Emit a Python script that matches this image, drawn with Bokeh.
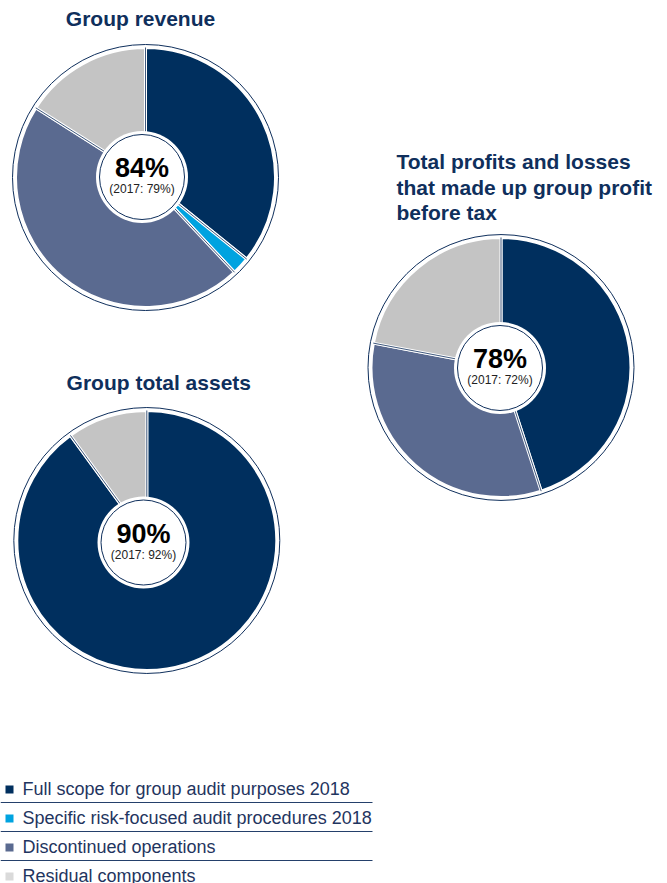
import numpy as np
from bokeh.plotting import figure
from bokeh.models import Range1d
from bokeh.core.properties import value
from bokeh.embed import file_html
from bokeh.resources import INLINE

# ---------------- data ----------------
categories = ["Full scope for group audit purposes 2018",
              "Specific risk-focused audit procedures 2018",
              "Discontinued operations",
              "Residual components"]
revenue_share = [35.8, 2.2, 46.0, 16.0]
profit_share = [45.0, 0.0, 33.0, 22.0]
assets_share = [90.0, 0.0, 0.0, 10.0]
chart_titles = [["Group revenue"],
                ["Total profits and losses", "that made up group profit", "before tax"],
                ["Group total assets"]]
headline = ["84%", "78%", "90%"]
prior_year = ["(2017: 79%)", "(2017: 72%)", "(2017: 92%)"]

# ---------------- style ----------------
slice_colors = ["#002f5e", "#00a3e0", "#5a6a90", "#c4c4c4"]
legend_colors = ["#002f5e", "#00a3e0", "#5a6a90", "#dadada"]
NAVY = "#0f2f5c"
FONT = value("Liberation Sans")

W, H = 667, 883
p = figure(width=W, height=H, output_backend="svg", toolbar_location=None,
           x_range=Range1d(0, W), y_range=Range1d(0, H),
           min_border=0, outline_line_color=None)
p.axis.visible = False
p.grid.visible = False
p.background_fill_color = "white"
p.border_fill_color = "white"


def Y(sy):
    # page y (from top) -> data y
    return H - sy


def draw_pie(shares, cx, cy, icx, icy, idx):
    vals = np.array(shares, dtype=float)
    fr = vals / vals.sum()
    c1 = np.cumsum(fr)
    c0 = c1 - fr
    keep = fr > 0
    starts = np.pi / 2 - 2 * np.pi * c1[keep]
    ends = np.pi / 2 - 2 * np.pi * c0[keep]
    cols = [c for c, k in zip(slice_colors, keep) if k]
    n = int(keep.sum())
    # outer ring
    p.circle(x=[cx], y=[Y(cy)], radius=133, radius_units="screen",
             fill_color=None, line_color=NAVY, line_width=1)
    p.wedge(x=[cx] * n, y=[Y(cy)] * n, radius=130, radius_units="screen",
            start_angle=starts, end_angle=ends, direction="anticlock",
            fill_color=cols, line_color="white", line_width=3)
    # thin navy separators
    p.ray(x=[cx] * n, y=[Y(cy)] * n, length=130, length_units="screen",
          angle=ends, line_color=NAVY, line_width=0.8)
    # center disc
    p.circle(x=[icx], y=[Y(icy)], radius=46, radius_units="screen",
             fill_color="white", line_color=None)
    p.circle(x=[icx], y=[Y(icy)], radius=42.5, radius_units="screen",
             fill_color="white", line_color=NAVY, line_width=1)
    p.text(x=[icx], y=[Y(icy - 9)], text=[headline[idx]], text_font=FONT,
           text_font_style="bold", text_font_size="27px", text_color="black",
           text_align="center", text_baseline="middle")
    p.text(x=[icx], y=[Y(icy + 12)], text=[prior_year[idx]], text_font=FONT,
           text_font_size="12px", text_color="#222222",
           text_align="center", text_baseline="middle")


draw_pie(revenue_share, 145, 177, 141.5, 176.5, 0)
draw_pie(profit_share, 500.5, 367, 499.5, 367.5, 1)
draw_pie(assets_share, 146.3, 540, 143, 542, 2)

# titles
p.text(x=[140], y=[Y(18)], text=chart_titles[0], text_font=FONT,
       text_font_style="bold", text_font_size="21px", text_color=NAVY,
       text_align="center", text_baseline="alphabetic")
p.text(x=[396] * 3, y=[Y(161), Y(186.5), Y(212)], text=chart_titles[1],
       text_font=FONT, text_font_style="bold", text_font_size="21px",
       text_color=NAVY, text_align="left", text_baseline="alphabetic")
p.text(x=[158.3], y=[Y(382)], text=chart_titles[2], text_font=FONT,
       text_font_style="bold", text_font_size="21px", text_color=NAVY,
       text_align="center", text_baseline="alphabetic")

# legend
rows = np.arange(len(categories))
sq_y = [Y(789 + 29 * i) for i in rows]
txt_y = [Y(788 + 29 * i) for i in rows]
p.scatter(x=[9] * len(rows), y=sq_y, marker="square", size=8,
          fill_color=legend_colors, line_color=None)
p.text(x=[22] * len(rows), y=txt_y, text=categories, text_font=FONT,
       text_font_size="18px", text_color="#1f3560",
       text_align="left", text_baseline="alphabetic")
sep_y = [Y(802 + 29 * i) for i in rows[:-1]]
p.segment(x0=[0] * len(sep_y), y0=sep_y, x1=[372] * len(sep_y), y1=sep_y,
          line_color="#24406b", line_width=1)

open("out.html", "w").write(file_html(p, INLINE))
